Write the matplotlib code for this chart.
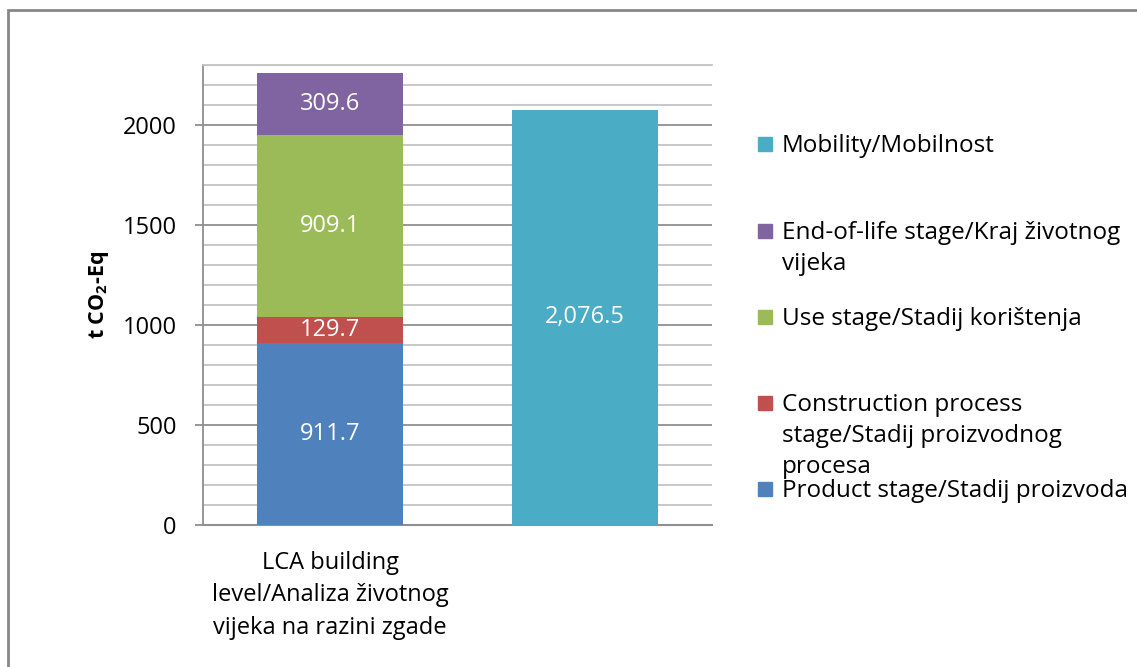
import matplotlib.pyplot as plt
from matplotlib.patches import Rectangle
from matplotlib.ticker import MultipleLocator

# Dados do gráfico
categorias = ['LCA building\nlevel/Analiza životnog\nvijeka na razini zgade', '']
product = [911.7, 0]
construction = [129.7, 0]
use = [909.1, 0]
end_of_life = [309.6, 0]
mobility = [0, 2076.5]

series_labels = ['Product stage/Stadij proizvoda',
                 'Construction process\nstage/Stadij proizvodnog\nprocesa',
                 'Use stage/Stadij korištenja',
                 'End-of-life stage/Kraj životnog\nvijeka',
                 'Mobility/Mobilnost']
colors = ['#4F81BD', '#C0504D', '#9BBB59', '#8064A2', '#4BACC6']

plt.rcParams['font.family'] = ['Open Sans', 'DejaVu Sans']
plt.rcParams['mathtext.fontset'] = 'custom'
plt.rcParams['mathtext.rm'] = 'Open Sans'
plt.rcParams['mathtext.bf'] = 'Open Sans:bold'

W, H = 1137, 667
fig = plt.figure(figsize=(W / 100, H / 100), dpi=100)
ax = fig.add_axes([203 / W, 1 - 525 / H, 509 / W, 460 / H])

# Moldura externa do gráfico
fig.patches.append(Rectangle((8 / W, -0.1), 1.2, 1.1 - 10 / H, transform=fig.transFigure,
                             fill=False, edgecolor='#878787', linewidth=2))

x = range(len(categorias))
bottom = [0, 0]
stacks = [product, construction, use, end_of_life, mobility]
for vals, col in zip(stacks, colors):
    bars = ax.bar(x, vals, width=0.574, bottom=bottom, color=col, zorder=3)
    for b, v, base in zip(bars, vals, bottom):
        if v > 0:
            ax.text(b.get_x() + b.get_width() / 2, base + v / 2, f'{v:,.1f}',
                    ha='center', va='center', color='white', fontsize=17, zorder=4)
    bottom = [b0 + v for b0, v in zip(bottom, vals)]

ax.set_xlim(-0.5, 1.5)
ax.set_ylim(0, 2300)
ax.yaxis.set_major_locator(MultipleLocator(500))
ax.yaxis.set_minor_locator(MultipleLocator(100))
ax.grid(which='minor', axis='y', color='#c4c4c4', linewidth=1.3, zorder=1)
ax.grid(which='major', axis='y', color='#8f8f8f', linewidth=1.3, zorder=2)
ax.tick_params(axis='y', which='major', length=6, width=1.3, color='#8f8f8f',
               labelsize=17, pad=13)
ax.tick_params(axis='y', which='minor', length=0)
ax.tick_params(axis='x', length=0, labelsize=17, pad=19)
ax.set_xticks(list(x))
ax.set_xticklabels(categorias, linespacing=1.45)

ax.spines['right'].set_visible(False)
ax.spines['top'].set_color('#c4c4c4')
ax.spines['top'].set_linewidth(1.3)
ax.spines['left'].set_color('#8f8f8f')
ax.spines['bottom'].set_color('#8f8f8f')
ax.spines['left'].set_linewidth(1.3)
ax.spines['bottom'].set_linewidth(1.5)

ax.set_ylabel('t CO$_\\mathbf{2}$-Eq', fontsize=15.5, fontweight='bold', labelpad=8)

# Legenda manual (ordem invertida, como no original)
leg_y = [489, 403, 317, 231, 144]
for lab, col, y in zip(series_labels, colors, leg_y):
    fig.patches.append(Rectangle((758 / W, 1 - (y + 7) / H), 14 / W, 14 / H,
                                 transform=fig.transFigure, color=col))
    fig.text(782 / W, 1 - (y - 10) / H, lab, ha='left', va='top', fontsize=17.5,
             linespacing=1.4)

plt.savefig('out.png', dpi=100)
